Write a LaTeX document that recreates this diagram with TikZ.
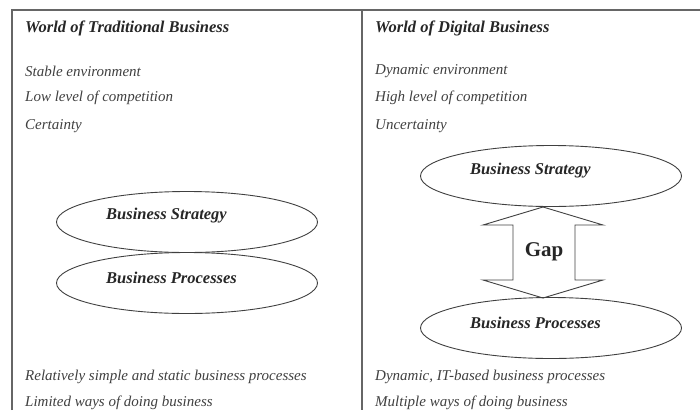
\documentclass[tikz,border=0pt]{standalone}
\usepackage{fontspec}
\setmainfont{Liberation Serif}
\usetikzlibrary{shapes.geometric}
\begin{document}
\begin{tikzpicture}[x=1pt,y=-1pt,
  frame/.style={draw=black!60, line width=1.4pt},
  heading/.style={anchor=west, inner sep=0pt, font=\fontsize{16.5}{18}\selectfont\bfseries\itshape, text=black!85},
  item/.style={anchor=west, inner sep=0pt, font=\fontsize{15}{17}\selectfont\itshape, text=black!75},
  oval/.style={draw=black!75, line width=0.9pt, ellipse, minimum width=261pt, minimum height=61pt, inner sep=0pt},
  ovaltext/.style={anchor=west, inner sep=0pt, font=\fontsize{16.5}{18}\selectfont\bfseries\itshape, text=black!85},
  gaparrow/.style={draw=black!75, line width=0.9pt, line join=miter},
  gaptext/.style={inner sep=0pt, font=\fontsize{21}{24}\selectfont\bfseries, text=black!85},
]
\useasboundingbox (0,0) rectangle (700,410);

% outer frame and column divider
\draw[frame] (12,410) -- (12,10) -- (700,10);
\draw[frame] (362,10) -- (362,410);

% left column: traditional business
\node[heading] (lhead) at (25,28) {World of Traditional Business};
\node[item] (l1) at (25,71) {Stable environment};
\node[item] (l2) at (25,98) {Low level of competition};
\node[item] (l3) at (25,126) {Certainty};
\node[item] (l4) at (25,377) {Relatively simple and static business processes};
\node[item] (l5) at (25,403) {Limited ways of doing business};

\node[oval] (ls) at (187,222) {};
\node[oval] (lp) at (187,283) {};
\node[ovaltext] (lst) at ([xshift=-81pt,yshift=6pt]ls.center) {Business Strategy};
\node[ovaltext] (lpt) at ([xshift=-81pt,yshift=5pt]lp.center) {Business Processes};

% right column: digital business
\node[heading] (rhead) at (375,28) {World of Digital Business};
\node[item] (r1) at (375,71) {Dynamic environment};
\node[item] (r2) at (375,98) {High level of competition};
\node[item] (r3) at (375,126) {Uncertainty};
\node[item] (r4) at (375,377) {Dynamic, IT-based business processes};
\node[item] (r5) at (375,403) {Multiple ways of doing business};

\node[oval] (rs) at (551,176) {};
\node[oval] (rp) at (551,328) {};
\node[ovaltext] (rst) at ([xshift=-81pt,yshift=5pt]rs.center) {Business Strategy};
\node[ovaltext] (rpt) at ([xshift=-81pt,yshift=5pt]rp.center) {Business Processes};

% double-headed block arrow marking the gap
\draw[gaparrow] (543,207) -- (603,225) -- (575,225) -- (575,280) -- (603,280)
  -- (543,298) -- (483,280) -- (513,280) -- (513,225) -- (483,225) -- cycle;
\node[gaptext] (gap) at (544,252) {Gap};
\end{tikzpicture}
\end{document}
